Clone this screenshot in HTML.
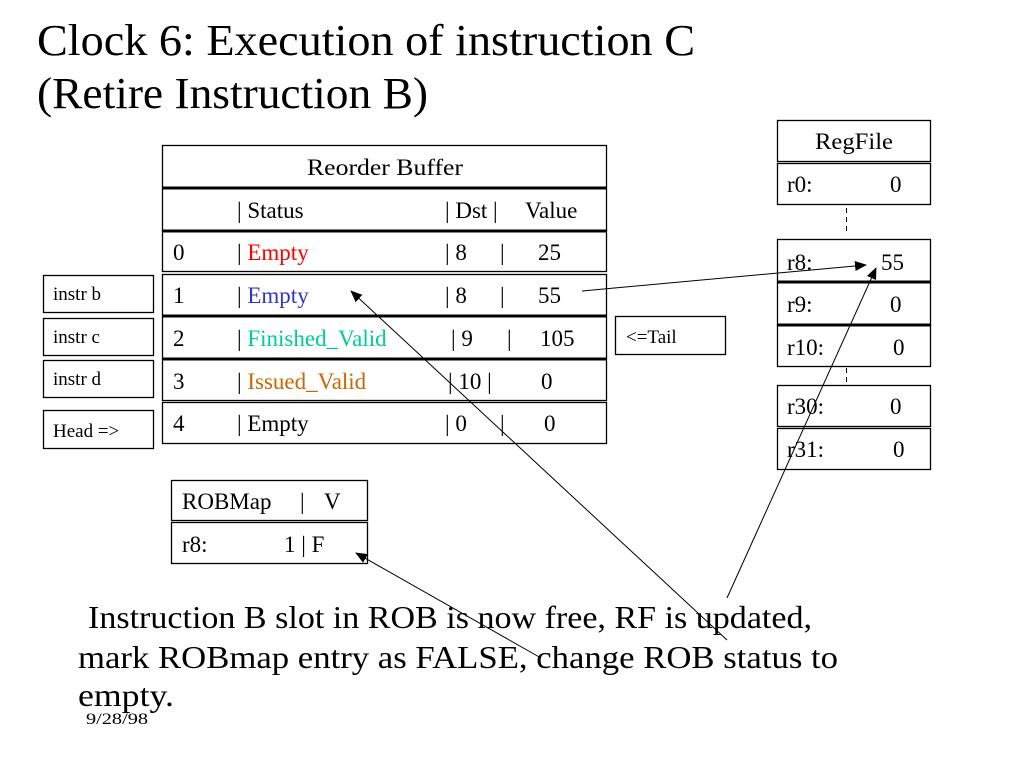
<!DOCTYPE html>
<html><head><meta charset="utf-8"><style>
html,body{margin:0;padding:0;background:#fff;}
svg{display:block;}
text{font-family:"Liberation Serif",serif;fill:#000;}
</style></head><body>
<svg width="1024" height="768" viewBox="0 0 1024 768" xmlns="http://www.w3.org/2000/svg">
<defs>
<marker id="ah" markerWidth="12" markerHeight="10" refX="11" refY="5" orient="auto" markerUnits="userSpaceOnUse">
<path d="M0,0 L12,5 L0,10 z" fill="#000"/>
</marker>
</defs>
<text x="37" y="55" font-size="44" textLength="658" lengthAdjust="spacingAndGlyphs">Clock 6:  Execution of instruction C</text>
<text x="37" y="108" font-size="44" textLength="391" lengthAdjust="spacingAndGlyphs">(Retire Instruction B)</text>

<g fill="none" stroke="#000" stroke-width="1.3">
<rect x="162.5" y="145.5" width="444" height="42"/>
<rect x="162.5" y="188.5" width="444" height="42"/>
<rect x="162.5" y="230.5" width="444" height="41"/>
<rect x="162.5" y="274.5" width="444" height="41"/>
<rect x="162.5" y="316.5" width="444" height="42"/>
<rect x="162.5" y="359.5" width="444" height="41"/>
<rect x="162.5" y="402.5" width="444" height="41"/>
</g>
<g stroke="#000" stroke-width="3">
<line x1="162" y1="188" x2="607" y2="188"/>
<line x1="162" y1="231" x2="607" y2="231"/>
<line x1="162" y1="316" x2="607" y2="316"/>
<line x1="162" y1="359" x2="607" y2="359"/>
</g>
<g font-size="23">
<text x="307" y="175" textLength="156" lengthAdjust="spacingAndGlyphs">Reorder Buffer</text>
<text x="237" y="218">| Status</text><text x="445" y="218">| Dst |</text><text x="525" y="218">Value</text>
<text x="173" y="260">0</text><text x="237" y="260">| <tspan fill="#ff0000">Empty</tspan></text><text x="445" y="260">| 8</text><text x="500" y="260">|</text><text x="538" y="260">25</text>
<text x="173" y="303">1</text><text x="237" y="303">| <tspan fill="#3333cc">Empty</tspan></text><text x="445" y="303">| 8</text><text x="500" y="303">|</text><text x="538" y="303">55</text>
<text x="173" y="346">2</text><text x="237" y="346">| <tspan fill="#00cc99">Finished_Valid</tspan></text><text x="451" y="346">| 9</text><text x="507" y="346">|</text><text x="540" y="346">105</text>
<text x="173" y="389">3</text><text x="237" y="389">| <tspan fill="#cc6600">Issued_Valid</tspan></text><text x="448" y="389">| 10 |</text><text x="541" y="389">0</text>
<text x="173" y="431">4</text><text x="237" y="431">| Empty</text><text x="445" y="431">| 0</text><text x="500" y="431">|</text><text x="544" y="431">0</text>
</g>

<g fill="none" stroke="#000" stroke-width="1.3">
<rect x="43.5" y="275.5" width="110" height="37"/>
<rect x="43.5" y="318.5" width="110" height="37"/>
<rect x="43.5" y="360.5" width="110" height="37"/>
<rect x="43.5" y="410.5" width="110" height="38"/>
<rect x="615.5" y="316.5" width="110" height="38"/>
<rect x="777.5" y="120.5" width="153" height="41"/>
<rect x="777.5" y="163.5" width="153" height="41"/>
<rect x="777.5" y="239.5" width="153" height="43"/>
<rect x="777.5" y="282.5" width="153" height="43"/>
<rect x="777.5" y="325.5" width="153" height="41"/>
<rect x="777.5" y="385.5" width="153" height="41"/>
<rect x="777.5" y="428.5" width="153" height="41"/>
<rect x="171.5" y="480.5" width="196" height="40"/>
<rect x="171.5" y="522.5" width="196" height="41"/>
</g>
<g stroke="#000" stroke-width="3">
<line x1="777" y1="282" x2="931" y2="282"/>
<line x1="777" y1="325" x2="931" y2="325"/>
</g>
<g stroke="#000" stroke-width="1" stroke-dasharray="5,4">
<line x1="846.5" y1="208" x2="846.5" y2="234"/>
<line x1="846.5" y1="368" x2="846.5" y2="385"/>
</g>
<g font-size="19">
<text x="53" y="300">instr  b</text>
<text x="53" y="343">instr  c</text>
<text x="53" y="385">instr  d</text>
<text x="53" y="437">Head =&gt;</text>
<text x="626" y="343">&lt;=Tail</text>
</g>
<g font-size="23">
<text x="815" y="149" textLength="78" lengthAdjust="spacingAndGlyphs">RegFile</text>
<text x="787" y="192">r0:</text><text x="890" y="192">0</text>
<text x="787" y="270">r8:</text><text x="881" y="270" fill="#3333cc">55</text>
<text x="787" y="312">r9:</text><text x="890" y="312">0</text>
<text x="787" y="355">r10:</text><text x="893" y="355">0</text>
<text x="787" y="414">r30:</text><text x="890" y="414">0</text>
<text x="787" y="457">r31:</text><text x="893" y="457">0</text>
<text x="182" y="509">ROBMap</text><text x="300" y="509">|</text><text x="324" y="509">V</text>
<text x="182" y="552">r8:</text><text x="284" y="552" fill="#1a6fe6">1 |  F</text>
</g>

<g stroke="#000" stroke-width="1" fill="none">
<line x1="582" y1="291" x2="866" y2="265" marker-end="url(#ah)"/>
<line x1="727" y1="598" x2="876" y2="268" marker-end="url(#ah)"/>
<line x1="727" y1="640" x2="351" y2="291" marker-end="url(#ah)"/>
<line x1="541" y1="658" x2="356" y2="553" marker-end="url(#ah)"/>
</g>

<text x="88" y="628" font-size="32" textLength="724" lengthAdjust="spacingAndGlyphs">Instruction B slot in ROB is now free, RF is updated,</text>
<text x="78" y="668" font-size="32" textLength="760" lengthAdjust="spacingAndGlyphs">mark ROBmap entry as FALSE,  change ROB status to</text>
<text x="78" y="706" font-size="32" textLength="96" lengthAdjust="spacingAndGlyphs">empty.</text>
<text x="86" y="724" font-size="16" textLength="62" lengthAdjust="spacingAndGlyphs">9/28/98</text>
</svg>
</body></html>
